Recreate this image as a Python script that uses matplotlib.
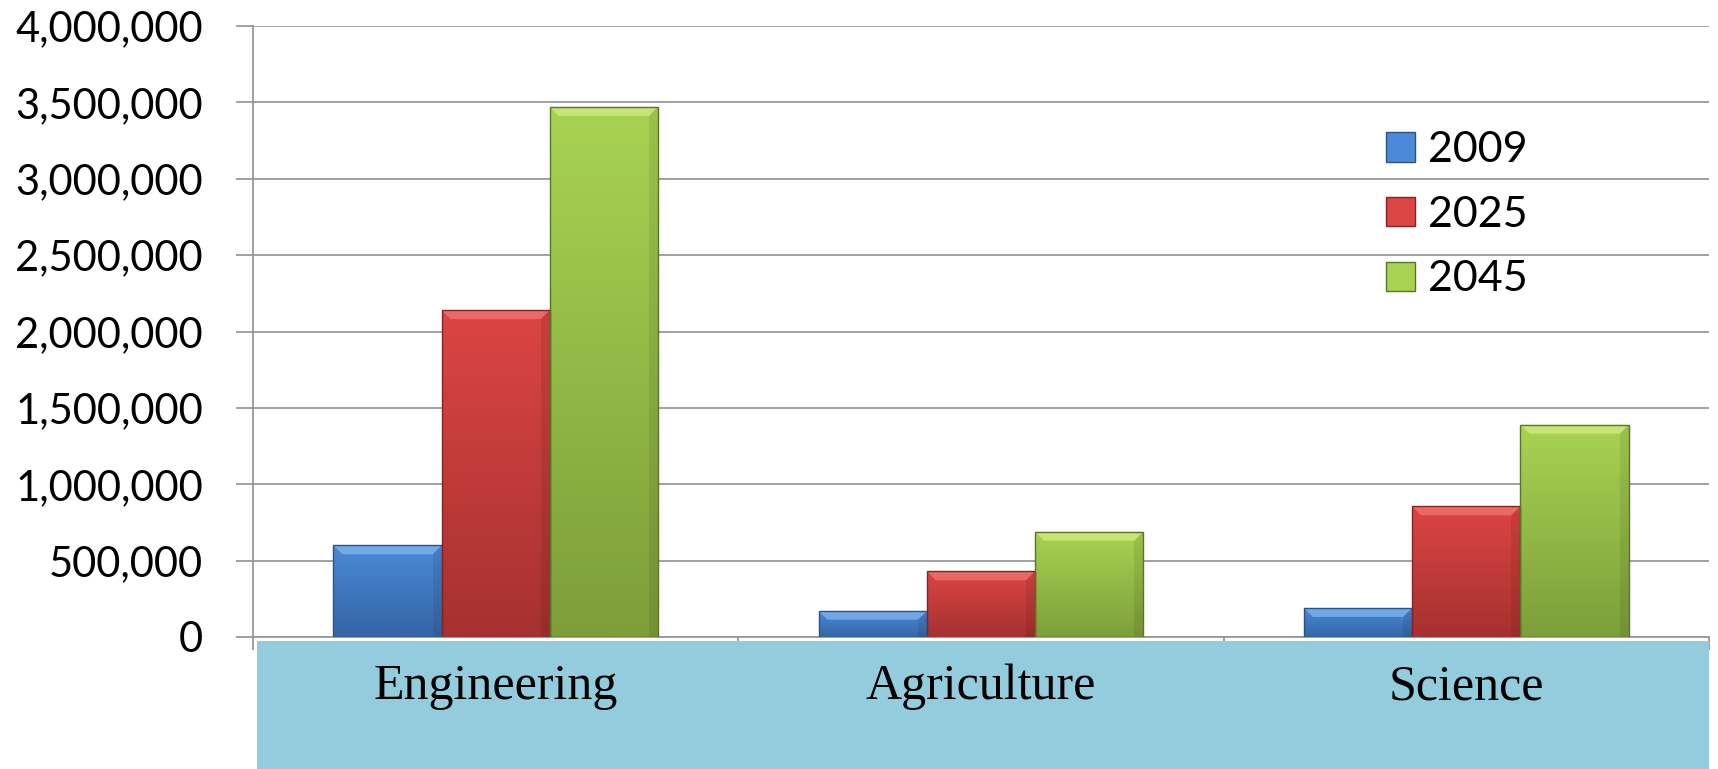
import numpy as np
import matplotlib.pyplot as plt
from matplotlib.colors import to_rgb
from matplotlib.patches import Rectangle, Polygon, Patch
from matplotlib.transforms import blended_transform_factory
from matplotlib.ticker import FuncFormatter, MultipleLocator

categories = ['Engineering', 'Agriculture', 'Science']
years = ['2009', '2025', '2045']
v2009 = [600000, 170000, 190000]
v2025 = [2140000, 430000, 855000]
v2045 = [3470000, 690000, 1390000]

# top colour, bottom colour, bevel highlight, edge
styles = [
    ('#4A8AD6', '#3566A6', '#86B8F2', '#2A5189'),
    ('#DB4543', '#A63130', '#F27876', '#842422'),
    ('#A8D352', '#7D9E3A', '#D6EE88', '#5A7526'),
]

fig = plt.figure(figsize=(17.18, 7.69), dpi=100)
ax = fig.add_axes([253 / 1718, 1 - 637 / 769, 1456 / 1718, 611 / 769])

x = np.arange(len(categories)) + 0.5
w = 0.223
ax.set_xlim(0, 3)
ax.set_ylim(0, 4000000)

bbox = ax.get_window_extent()
px_x = 3 / bbox.width
px_y = 4000000 / bbox.height

for i, vals in enumerate([v2009, v2025, v2045]):
    top, bottom, light, edge = styles[i]
    bars = ax.bar(x + (i - 1) * w, vals, w, color='none', edgecolor=edge,
                  linewidth=1.0, zorder=4, label=years[i])
    for b in bars:
        x0, x1, h = b.get_x(), b.get_x() + b.get_width(), b.get_height()
        t = np.linspace(0, 1, 256)[:, None, None]
        img = (1 - t) * np.array(to_rgb(top)) + t * np.array(to_rgb(bottom))
        im = ax.imshow(img, extent=[x0, x1, 0, h], aspect='auto', zorder=3,
                       interpolation='bilinear')
        im.set_clip_path(b)
        dx, dy = 9 * px_x, 9 * px_y
        dy = min(dy, h / 3)
        ax.add_patch(Polygon([(x0, h), (x1, h), (x1 - dx, h - dy), (x0 + dx, h - dy)],
                             closed=True, facecolor=light, edgecolor='none',
                             alpha=0.7, zorder=3.5))
        ax.add_patch(Polygon([(x1, h), (x1, 0), (x1 - dx, 0), (x1 - dx, h - dy)],
                             closed=True, facecolor='black', edgecolor='none',
                             alpha=0.08, zorder=3.5))

ax.set_xlim(0, 3)
ax.set_ylim(0, 4000000)

ax.yaxis.set_major_locator(MultipleLocator(500000))
ax.yaxis.set_major_formatter(FuncFormatter(lambda v, p: f'{int(v):,}'))
ax.grid(axis='y', color='#989898', linewidth=1.3, zorder=0)
ax.set_axisbelow(True)
ax.set_xticks([0, 1, 2, 3])
ax.set_xticklabels([])
ax.tick_params(axis='y', length=12, width=1.3, color='#989898', pad=24,
               labelsize=30, labelfontfamily='Lato')
ax.tick_params(axis='x', length=9, width=1.3, color='#989898', direction='out')
for s in ['top', 'right']:
    ax.spines[s].set_visible(False)
for s in ['left', 'bottom']:
    ax.spines[s].set_color('#989898')
    ax.spines[s].set_linewidth(1.3)

# light blue band holding the category names
ax.add_patch(Rectangle((4 / 1456, -132 / 611), 1452 / 1456, 128 / 611,
                       transform=ax.transAxes, clip_on=False,
                       facecolor='#93CDDD', edgecolor='none', zorder=5))
trans = blended_transform_factory(ax.transData, fig.transFigure)
for xi, name in zip(x, categories):
    ax.text(xi, 1 - 687 / 769, name, transform=trans, ha='center', va='center',
            fontsize=36, family='Liberation Serif', zorder=6, clip_on=False)

handles = [Patch(facecolor=s[0], edgecolor=s[3], linewidth=1.0) for s in styles]
ax.legend(handles, years, loc='upper left', bbox_to_anchor=(1386 / 1718, 1 - 131 / 769),
          bbox_transform=fig.transFigure, frameon=False,
          prop={'family': 'Lato', 'size': 31}, handlelength=0.67, handleheight=0.67,
          handletextpad=0.3, labelspacing=0.62, borderpad=0, borderaxespad=0)

fig.savefig('out.png', dpi=100)
